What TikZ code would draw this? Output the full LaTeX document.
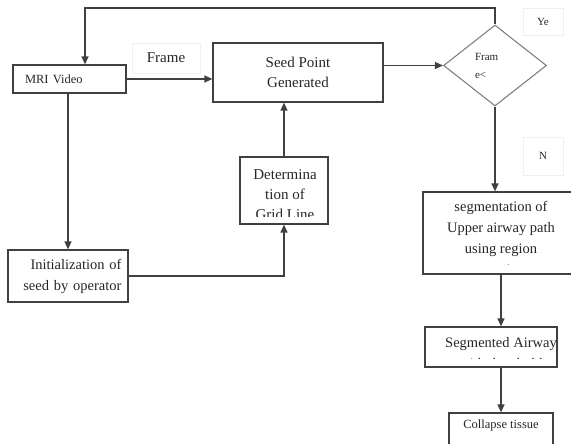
\documentclass[tikz,border=0pt]{standalone}
\usepackage{fontspec}
\setmainfont{Liberation Serif}
\usetikzlibrary{shapes.geometric,arrows.meta,positioning}

\begin{document}
\begin{tikzpicture}[
  x=1pt, y=-1pt,
  every node/.style={text=black!85},
  block/.style={rectangle, draw=black!75, line width=1.2pt, inner sep=0pt},
  decision/.style={diamond, draw=black!50, line width=1.1pt, minimum width=103pt, minimum height=81pt, aspect=1.27, inner sep=0pt},
  tag/.style={rectangle, draw=black!6, line width=0.5pt, inner sep=0pt},
  arrow/.style={-{Triangle[length=8pt,width=7pt]}, line width=1.3pt, draw=black!75},
  txtbig/.style={font=\fontsize{15}{20}\selectfont},
  txtmid/.style={font=\fontsize{14.5}{21}\selectfont},
  txtsmall/.style={font=\fontsize{12.5}{18}\selectfont},
  txtlabel/.style={font=\fontsize{11}{18}\selectfont}
]
\clip (0,0) rectangle (571,444);

% Top row
\node[block, txtsmall, text width=89pt, inner xsep=12pt, minimum height=28pt, align=left] (mri) at (69.5,79) {MRI Video};
\node[tag, txtbig, minimum width=68pt, minimum height=30pt] (framelbl) at (166,58) {Frame};
\node[block, txtbig, minimum width=170pt, minimum height=59pt, align=center] (seed) at (298,72.5) {Seed Point\\Generated};
\node[decision, txtlabel, text width=40pt, align=left] (check) at (495,65.5) {Fram\\e<};
\node[tag, txtlabel, minimum width=40pt, minimum height=27pt] (yeslbl) at (543,21.5) {Ye};
\node[tag, txtlabel, minimum width=40pt, minimum height=38pt] (nolbl) at (543,156) {N};

% Left column
\node[block, txtmid, text width=107pt, inner xsep=6.5pt, minimum height=52pt, align=right] (init) at (68,276) {Initialization of\\seed by operator};
\node[block, minimum width=88pt, minimum height=67pt,
  path picture={\clip (path picture bounding box.north west) rectangle ([yshift=8pt]path picture bounding box.south east);
    \node[txtbig, align=center] at ([xshift=1pt, yshift=-4pt]path picture bounding box.center) {Determina\\tion of\\Grid Line};}] (grid) at (284,190.5) {};

% Right column
\node[block, minimum width=156pt, minimum height=82pt,
  path picture={\clip (path picture bounding box.north west) rectangle ([yshift=9.5pt]path picture bounding box.south east);
    \node[txtmid, align=center] at ([yshift=-6pt]path picture bounding box.center) {segmentation of\\Upper airway path\\using region\\growing};}] (seg) at (501,233) {};
\node[block, minimum width=132pt, minimum height=40pt,
  path picture={\clip (path picture bounding box.north west) rectangle ([yshift=8.5pt]path picture bounding box.south east);
    \node[txtmid, align=center] at ([xshift=10pt, yshift=-6.5pt]path picture bounding box.center) {Segmented Airway\\with threshold};}] (airway) at (491,347) {};
\node[block, txtsmall, minimum width=104pt, text height=10pt, text depth=14pt, inner ysep=5pt] (tissue) at (501,430) {Collapse tissue};

% Connectors
\coordinate (loop) at (85,8);
\draw[arrow] (mri.east) -- (mri.east -| seed.west);
\draw[arrow] (check.west -| seed.east) -- (check.west);
\draw[arrow] (check.north) |- (loop) -- (loop |- mri.north);
\draw[arrow] (check.south) -- (check.south |- seg.north);
\draw[arrow] (seg.south) -- (seg.south |- airway.north);
\draw[arrow] (airway.south -| tissue.north) -- (tissue.north);
\draw[arrow] (grid.north) -- (grid.north |- seed.south);
\draw[arrow] (init.north |- mri.south) -- (init.north);
\draw[arrow] (init.east) -| (grid.south);

\end{tikzpicture}
\end{document}
